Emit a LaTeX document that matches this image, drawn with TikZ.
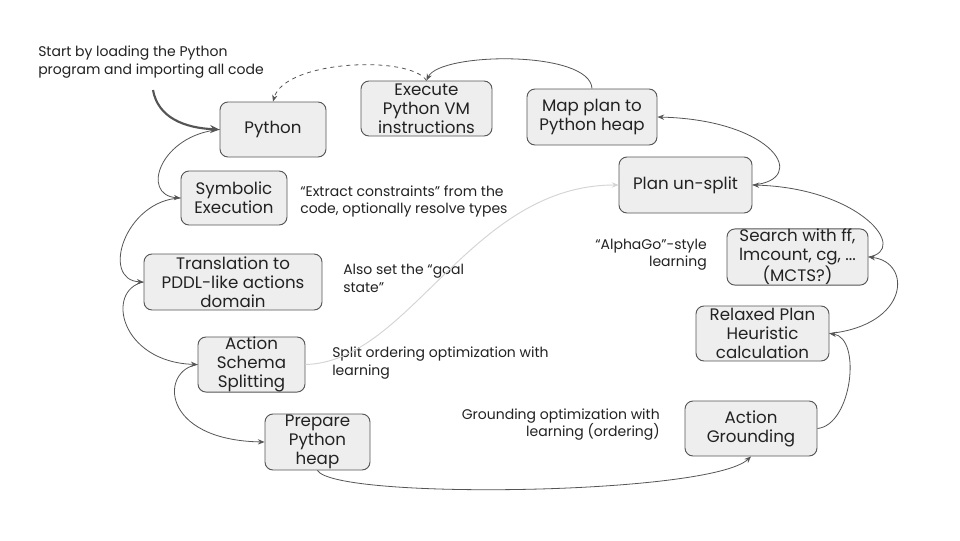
\documentclass[tikz,border=0pt]{standalone}
\usepackage{fontspec}
\setmainfont{Poppins}
\usetikzlibrary{arrows.meta}
\definecolor{boxfill}{HTML}{EEEEEE}
\definecolor{boxline}{HTML}{555555}
\definecolor{textc}{HTML}{222222}
\definecolor{linec}{HTML}{555555}
\definecolor{lightline}{HTML}{D4D4D4}
\tikzset{
  box/.style={draw=boxline, fill=boxfill, rounded corners=6pt, line width=0.7pt,
    align=center, inner sep=0pt, text=textc,
    font=\fontsize{12.5}{14.2}\selectfont},
  note/.style={inner sep=0pt, text=textc, font=\fontsize{10.5}{13}\selectfont},
  flow/.style={draw=linec, line width=0.6pt, -{Stealth[length=5pt,width=4pt]}},
  startflow/.style={draw=linec, line width=1.6pt, -{Stealth[length=7pt,width=6pt]}},
  backflow/.style={draw=linec, line width=0.6pt, dashed, -{Stealth[length=5pt,width=4pt]}},
  faintflow/.style={draw=lightline, line width=0.7pt, -{Stealth[length=5pt,width=4pt]}}
}
\begin{document}
\begin{tikzpicture}[x=0.75pt,y=-0.75pt]
\useasboundingbox (0,0) rectangle (960,540);
\fill[white] (0,0) rectangle (960,540);

% boxes
\node[box, minimum width=79.5pt, minimum height=41.25pt] (py) at (273,129.5) {Python};
\node[box, minimum width=98.25pt, minimum height=41.25pt] (ex) at (426.5,108.5) {Execute\\Python VM\\instructions};
\node[box, minimum width=97.5pt, minimum height=42pt] (map) at (592,117) {Map plan to\\Python heap};
\node[box, minimum width=99.75pt, minimum height=42pt] (uns) at (685.5,185) {Plan un-split};
\node[box, minimum width=79.5pt, minimum height=40.5pt] (sym) at (234,198) {Symbolic\\Execution};
\node[box, minimum width=133.5pt, minimum height=42pt] (tr) at (233,282) {Translation to\\PDDL-like actions\\domain};
\node[box, minimum width=80.25pt, minimum height=41.25pt] (ass) at (251.5,364.5) {Action\\Schema\\Splitting};
\node[box, minimum width=78.75pt, minimum height=42pt] (prep) at (317.5,442) {Prepare\\Python\\heap};
\node[box, minimum width=99pt, minimum height=41.25pt] (gr) at (751,428.5) {Action\\Grounding};
\node[box, minimum width=99.75pt, minimum height=41.25pt] (rel) at (762.5,333.5) {Relaxed Plan\\Heuristic\\calculation};
\node[box, minimum width=105.75pt, minimum height=42pt] (srch) at (797.5,257) {Search with ff,\\lmcount, cg, ...\\(MCTS?)};

% notes
\node[note, align=left, anchor=west] (nstart) at (38,62) {Start by loading the Python\\program and importing all code};
\node[note, align=left, anchor=west] (nextract) at (300,201.5) {“Extract constraints” from the\\code, optionally resolve types};
\node[note, align=left, anchor=west] (ngoal) at (343,278.5) {Also set the “goal\\state”};
\node[note, align=left, anchor=west] (nsplit) at (332,363) {Split ordering optimization with\\learning};
\node[note, align=right, anchor=east] (nground) at (660,424.5) {Grounding optimization with\\learning (ordering)};
\node[note, align=right, anchor=east] (nalpha) at (707,254.5) {“AlphaGo”-style\\learning};

% start arrow
\coordinate (st) at (153,90);
\draw[startflow] (st) .. controls (158,118) and (185,128) .. (py.west);

% main flow
\draw[flow] (py.west) .. controls (160,135) and (140,195) .. (sym.west);
\draw[flow] (sym.west) .. controls (125,200) and (100,280) .. (tr.west);
\draw[flow] (tr.west) .. controls (105,290) and (120,362) .. (ass.west);
\draw[flow] (ass.west) .. controls (160,370) and (160,440) .. (prep.west);
\draw[flow] (prep.south) .. controls (335,500) and (710,495) .. (gr.south);
\draw[flow] (gr.east) .. controls (852,425) and (862,338) .. (rel.east);
\draw[flow] (rel.east) .. controls (910,325) and (912,262) .. (srch.east);
\draw[flow] (srch.east) .. controls (910,250) and (860,188) .. (uns.east);
\draw[flow] (uns.east) .. controls (810,180) and (775,120) .. (map.east);
\draw[flow] (map.north) .. controls (590,50) and (440,52) .. (ex.north);
\draw[backflow] (ex.north) .. controls (410,55) and (285,60) .. (py.north);
\draw[faintflow] (ass.east) .. controls (410,362) and (470,185) .. (uns.west);
\end{tikzpicture}
\end{document}
